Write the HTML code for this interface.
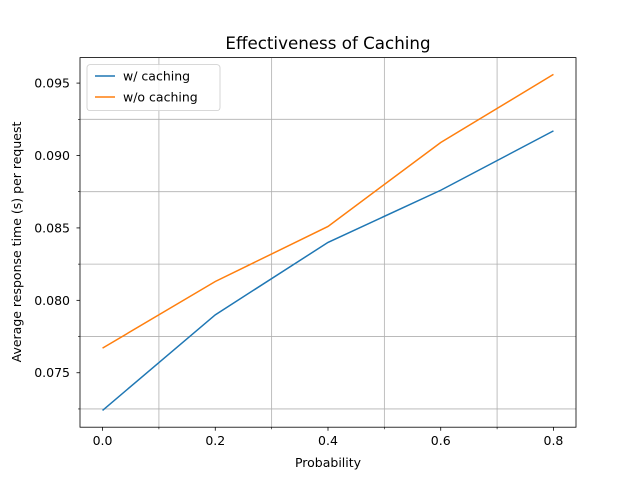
<!DOCTYPE html>
<html><head><meta charset="utf-8"><style>body{margin:0;background:#fff}svg{font-family:"DejaVu Sans","Liberation Sans",sans-serif}</style></head>
<body>
<svg id="chart" width="640" height="480">
<rect width="640" height="480" fill="#fff"/>
</svg>
<script>
const xValues=[0,0.2,0.4,0.6,0.8];
const withCaching=[0.0724,0.0790,0.0840,0.0876,0.0917];
const withoutCaching=[0.0767,0.0813,0.0851,0.0909,0.0956];
const xTicks=[0,0.2,0.4,0.6,0.8];
const xTickLabels=["0.0","0.2","0.4","0.6","0.8"];
const xMinor=[0.1,0.3,0.5,0.7];
const yTicks=[0.075,0.080,0.085,0.090,0.095];
const yTickLabels=["0.075","0.080","0.085","0.090","0.095"];
const yMinor=[0.0725,0.0775,0.0825,0.0875,0.0925];
const L=80,R=576,T=57.6,B=427.2;
const all=withCaching.concat(withoutCaching);
const ymin=Math.min(...all),ymax=Math.max(...all),yr=ymax-ymin;
const y0=ymin-0.05*yr,y1=ymax+0.05*yr;
const x0=-0.04,x1=0.84;
const sx=v=>L+(v-x0)/(x1-x0)*(R-L);
const sy=v=>B-(v-y0)/(y1-y0)*(B-T);
const svg=document.getElementById('chart');
const NS='http://www.w3.org/2000/svg';
function mk(tag,attrs,parent){const e=document.createElementNS(NS,tag);for(const k in attrs)e.setAttribute(k,attrs[k]);(parent||svg).appendChild(e);return e;}
xMinor.forEach(v=>{const e=mk('line',{x1:sx(v),x2:sx(v),y1:T,y2:B,stroke:'#b0b0b0','stroke-width':0.8});


mk('line',{x1:sx(v),x2:sx(v),y1:B,y2:B+2,stroke:'#000','stroke-width':0.6});});
yMinor.forEach(v=>{const e=mk('line',{x1:L,x2:R,y1:sy(v),y2:sy(v),stroke:'#b0b0b0','stroke-width':0.8});


mk('line',{x1:L-2,x2:L,y1:sy(v),y2:sy(v),stroke:'#000','stroke-width':0.6});});
function series(vals,color,name){const pts=xValues.map((x,i)=>sx(x)+','+sy(vals[i])).join(' ');
const e=mk('polyline',{points:pts,fill:'none',stroke:color,'stroke-width':1.5});

}
series(withCaching,'#1f77b4','line-with-caching');
series(withoutCaching,'#ff7f0e','line-without-caching');
const frame=mk('rect',{x:L,y:T,width:R-L,height:B-T,fill:'none',stroke:'#000','stroke-width':0.8});


xTicks.forEach((v,i)=>{mk('line',{x1:sx(v),x2:sx(v),y1:B,y2:B+3.5,stroke:'#000','stroke-width':0.8});
const t=mk('text',{x:sx(v),y:B+18,'text-anchor':'middle','font-size':12.5});t.textContent=xTickLabels[i];

});
yTicks.forEach((v,i)=>{mk('line',{x1:L-3.5,x2:L,y1:sy(v),y2:sy(v),stroke:'#000','stroke-width':0.8});
const t=mk('text',{x:L-10,y:sy(v)+4.5,'text-anchor':'end','font-size':12.5});t.textContent=yTickLabels[i];

});
</script>
<svg width="640" height="480" style="position:absolute;left:0;top:0">
<text x="328" y="49" text-anchor="middle" font-size="16.7">Effectiveness of Caching</text>
<text x="328" y="467" text-anchor="middle" font-size="12.5">Probability</text>
<text transform="translate(21,242) rotate(-90)" text-anchor="middle" font-size="12.5">Average response time (s) per request</text>
<g>
<rect x="87" y="64.6" width="133" height="46" rx="3" fill="#fff" fill-opacity="0.8" stroke="#ccc" stroke-width="0.8"/>
<line x1="95" x2="115" y1="76" y2="76" stroke="#1f77b4" stroke-width="1.5"/>
<text x="123" y="80.5" font-size="12.5">w/ caching</text>
<line x1="95" x2="115" y1="97" y2="97" stroke="#ff7f0e" stroke-width="1.5"/>
<text x="123" y="101.5" font-size="12.5">w/o caching</text>
</g>
</svg>
</body></html>
